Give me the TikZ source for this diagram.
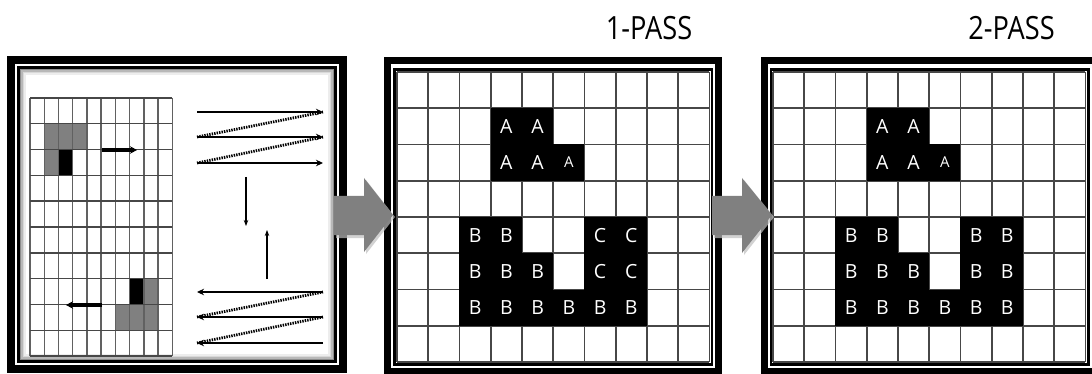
\documentclass[tikz,border=0pt]{standalone}
\usepackage{fontspec}
\setsansfont{Open Sans}
\usetikzlibrary{arrows.meta}
\begin{document}
\begin{tikzpicture}[x=1pt,y=-1pt,
  frameouter/.style={line width=7pt, draw=black},
  frameinner/.style={line width=2.5pt, draw=black},
  smallgrid/.style={draw=black!62, line width=1.4pt},
  biggrid/.style={draw=black!72, line width=1.8pt},
  greycell/.style={fill=black!50},
  blackcell/.style={fill=black},
  scanline/.style={line width=2.6pt, -{Stealth[length=7pt,width=6.5pt]}},
  scanret/.style={line width=2.8pt, dash pattern=on 1.4pt off 1.1pt},
  movearrow/.style={line width=3.2pt, -{Stealth[length=7pt,width=7.5pt]}},
  steparrow/.style={line width=1.5pt, -{Stealth[length=6pt,width=4.5pt]}},
  blockarrow/.style={fill=black!50},
  blockshadow/.style={fill=black!25, opacity=0.7},
  lab/.style={font=\sffamily\fontsize{19.5}{19.5}\selectfont, text=white, inner sep=0pt},
  labsmall/.style={font=\sffamily\fontsize{15}{15}\selectfont, text=white, inner sep=0pt},
  passlabel/.style={font=\sffamily\fontsize{32}{32}\selectfont, inner sep=0pt, anchor=base}
]
\useasboundingbox (0,0) rectangle (1092,374);
\clip (0,0) rectangle (1092,374);
\fill[white] (0,0) rectangle (1092,374);

% ---------- panel 1 frame ----------
\draw[frameouter, line width=8pt] (11,60) rectangle (343,369);
\draw[frameinner, line width=3pt] (18.5,67.5) rectangle (335.5,361.5);
\draw[black!45, line width=1.5pt] (20.7,69.7) rectangle (333.3,359.3);
\draw[black!28, line width=1.5pt] (22.2,71.2) rectangle (331.8,357.8);
\draw[black!15, line width=1.5pt] (23.7,72.7) rectangle (330.3,356.3);
\draw[black!7, line width=1.5pt] (25.2,74.2) rectangle (328.8,354.8);

% ---------- panel 1 grid ----------
\begin{scope}[shift={(30,98)}, x=14.23pt, y=-25.8pt]
  \fill[greycell] (1,1) rectangle (4,2);
  \fill[greycell] (1,2) rectangle (2,3);
  \fill[blackcell] (2,2) rectangle (3,3);
  \fill[blackcell] (7,7) rectangle (8,8);
  \fill[greycell] (8,7) rectangle (9,8);
  \fill[greycell] (6,8) rectangle (9,9);
  \foreach \i in {0,...,10} \draw[smallgrid] (\i,0) -- (\i,10);
  \foreach \j in {0,...,10} \draw[smallgrid, draw=black!72] (0,\j) -- (10,\j);
\end{scope}
\coordinate (mra) at (102,150);
\coordinate (mrb) at (137,150);
\coordinate (mla) at (102,305);
\coordinate (mlb) at (66,305);
\draw[movearrow] (mra) -- (mrb);
\draw[movearrow] (mla) -- (mlb);

% ---------- scan arrows ----------
\foreach \n/\y in {1/112,2/137,3/163} {
  \coordinate (tl\n) at (197,\y);
  \coordinate (tr\n) at (323,\y);
}
\foreach \n/\y in {1/292,2/317,3/343} {
  \coordinate (bl\n) at (197,\y);
  \coordinate (br\n) at (323,\y);
}
\draw[scanret] (tl2) -- (tr1);
\draw[scanret] (tl3) -- (tr2);
\draw[scanret] (bl2) -- (br1);
\draw[scanret] (bl3) -- (br2);
\foreach \n in {1,2,3} {
  \draw[scanline] (tl\n) -- (tr\n);
  \draw[scanline] (br\n) -- (bl\n);
}
\coordinate (dn1) at (246,177);
\coordinate (dn2) at (246,226);
\coordinate (up1) at (267,279);
\coordinate (up2) at (267,230);
\draw[steparrow] (dn1) -- (dn2);
\draw[steparrow] (up1) -- (up2);

% ---------- panel 2 ----------
\draw[frameouter] (387.5,60.5) rectangle (718.5,371.5);
\draw[frameinner] (394.5,69.5) rectangle (712,364.5);
\begin{scope}[shift={(397,72)}, x=31.24pt, y=-36.25pt]
  \foreach \i in {0,...,10} \draw[biggrid] (\i,0) -- (\i,8);
  \foreach \j in {0,...,8} \draw[biggrid] (0,\j) -- (10,\j);
  \fill[blackcell] (3,1) rectangle (5,2);
  \fill[blackcell] (3,2) rectangle (6,3);
  \fill[blackcell] (2,4) rectangle (4,5);
  \fill[blackcell] (6,4) rectangle (8,6);
  \fill[blackcell] (2,5) rectangle (5,6);
  \fill[blackcell] (2,6) rectangle (8,7);
  \node[lab] (pa1) at (3.5,1.5) {A};
  \node[lab] (pa2) at (4.5,1.5) {A};
  \node[lab] (pa3) at (3.5,2.5) {A};
  \node[lab] (pa4) at (4.5,2.5) {A};
  \node[labsmall] (pa5) at (5.5,2.5) {A};
  \node[lab] (pb1) at (2.5,4.5) {B};
  \node[lab] (pb2) at (3.5,4.5) {B};
  \node[lab] (pc1) at (6.5,4.5) {C};
  \node[lab] (pc2) at (7.5,4.5) {C};
  \node[lab] (pb3) at (2.5,5.5) {B};
  \node[lab] (pb4) at (3.5,5.5) {B};
  \node[lab] (pb5) at (4.5,5.5) {B};
  \node[lab] (pc3) at (6.5,5.5) {C};
  \node[lab] (pc4) at (7.5,5.5) {C};
  \foreach \c in {2,...,7} \node[lab] (pr\c) at (\c+0.5,6.5) {B};
\end{scope}

% ---------- panel 3 ----------
\draw[frameouter] (764,60.5) rectangle (1095,371.5);
\draw[frameinner] (771,69.5) rectangle (1088.5,364.5);
\begin{scope}[shift={(773,72)}, x=31.24pt, y=-36.25pt]
  \foreach \i in {0,...,10} \draw[biggrid] (\i,0) -- (\i,8);
  \foreach \j in {0,...,8} \draw[biggrid] (0,\j) -- (10,\j);
  \fill[blackcell] (3,1) rectangle (5,2);
  \fill[blackcell] (3,2) rectangle (6,3);
  \fill[blackcell] (2,4) rectangle (4,5);
  \fill[blackcell] (6,4) rectangle (8,6);
  \fill[blackcell] (2,5) rectangle (5,6);
  \fill[blackcell] (2,6) rectangle (8,7);
  \node[lab] (qa1) at (3.5,1.5) {A};
  \node[lab] (qa2) at (4.5,1.5) {A};
  \node[lab] (qa3) at (3.5,2.5) {A};
  \node[lab] (qa4) at (4.5,2.5) {A};
  \node[labsmall] (qa5) at (5.5,2.5) {A};
  \node[lab] (qb1) at (2.5,4.5) {B};
  \node[lab] (qb2) at (3.5,4.5) {B};
  \node[lab] (qb6) at (6.5,4.5) {B};
  \node[lab] (qb7) at (7.5,4.5) {B};
  \node[lab] (qb3) at (2.5,5.5) {B};
  \node[lab] (qb4) at (3.5,5.5) {B};
  \node[lab] (qb5) at (4.5,5.5) {B};
  \node[lab] (qb8) at (6.5,5.5) {B};
  \node[lab] (qb9) at (7.5,5.5) {B};
  \foreach \c in {2,...,7} \node[lab] (qr\c) at (\c+0.5,6.5) {B};
\end{scope}

% ---------- block arrows ----------
\fill[blockshadow] (336,199) -- (366,199) -- (366,180) -- (395,217) -- (366,254) -- (366,238) -- (336,238) -- cycle;
\fill[blockarrow] (334,196) -- (364,196) -- (364,178) -- (393,215) -- (364,252) -- (364,235) -- (334,235) -- cycle;
\fill[blockshadow] (714,199) -- (744,199) -- (744,180) -- (774,217) -- (744,255) -- (744,238) -- (714,238) -- cycle;
\fill[blockarrow] (712,196) -- (742,196) -- (742,178) -- (772,215) -- (742,253) -- (742,235) -- (712,235) -- cycle;

% ---------- titles ----------
\node[passlabel] (pass1) at (649,40) {\scalebox{0.85}[1]{1-PASS}};
\node[passlabel] (pass2) at (1011.5,40) {\scalebox{0.85}[1]{2-PASS}};
\end{tikzpicture}
\end{document}
